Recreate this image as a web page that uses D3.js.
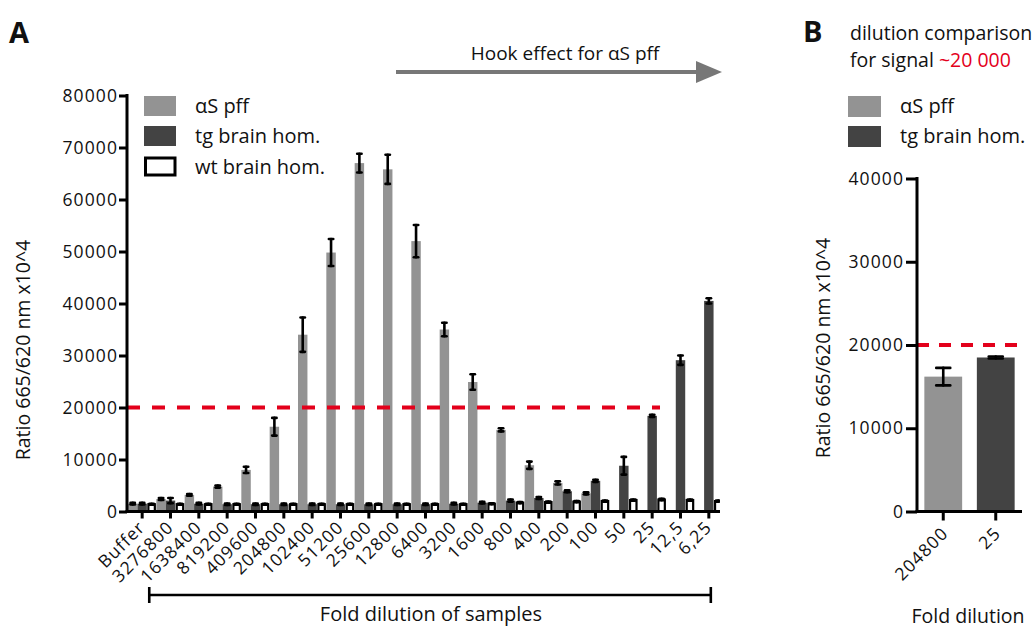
<!DOCTYPE html>
<html><head><meta charset="utf-8">
<script src="https://cdn.jsdelivr.net/npm/d3@7"></script>
<style>
body{margin:0;background:#fff;}
svg text{font-family:"Open Sans",sans-serif;fill:#111;}
</style></head>
<body><svg id="c" width="1032" height="628"></svg>
<script>
// ---- data (panel A) ----
const categories = ["Buffer","3276800","1638400","819200","409600","204800","102400","51200","25600","12800","6400","3200","1600","800","400","200","100","50","25","12,5","6,25"];
const seriesNames = ["αS pff","tg brain hom.","wt brain hom."];
const pffValues = [1500,2400,3200,4800,8000,16300,34000,49800,67000,65800,52000,35000,24900,15700,8900,5500,3500,null,null,null,null];
const pffErrors = [150,200,150,200,600,1700,3300,2600,1800,2800,3100,1300,1500,300,700,300,200,null,null,null,null];
const tgValues  = [1500,2100,1500,1400,1400,1400,1400,1400,1400,1400,1400,1500,1700,2100,2600,3900,5900,8800,18400,29100,40500];
const tgErrors  = [150,500,150,150,150,150,150,150,150,150,150,150,150,200,200,200,200,1700,200,900,500];
const wtValues  = [1400,1400,1400,1400,1400,1400,1400,1400,1400,1400,1400,1400,1500,1700,1800,1900,2000,2200,2300,2200,2000];
const wtErrors  = [100,100,100,100,100,100,100,100,100,100,100,100,100,100,100,100,100,100,150,100,100];
const yTicksA = [0,10000,20000,30000,40000,50000,60000,70000,80000];
const thresholdValue = 20000;
// ---- data (panel B) ----
const categoriesB = ["204800","25"];
const valuesB = [16200,18500];
const errorsB = [1050,120];
const yTicksB = [0,10000,20000,30000,40000];

const colPff = "#939393", colTg = "#434343", colRed = "#e3001b";
const tickFont = 17.5, tickLS = "1.1px";
const svg = d3.select("#c");

// ================= Panel A =================
const x = d3.scaleBand().domain(categories).range([128, 723]).padding(0);
const xs = d3.scaleBand().domain(seriesNames).range([0, x.bandwidth()]).padding(0);
const y = d3.scaleLinear().domain([0, 80000]).range([511.5, 95.5]);

svg.append("defs").append("clipPath").attr("id","clipA")
  .append("rect").attr("x",120).attr("y",0).attr("width",599.8).attr("height",628);

const gA = svg.append("g").attr("clip-path","url(#clipA)");
const rows = categories.map((c,i)=>({c,i}));

gA.selectAll("rect.pff").data(rows.filter(d=>pffValues[d.i]!=null)).join("rect")
  .attr("x", d=>x(d.c)+xs(seriesNames[0])).attr("width", xs.bandwidth())
  .attr("y", d=>y(pffValues[d.i])).attr("height", d=>y(0)-y(pffValues[d.i]))
  .attr("fill", colPff);
gA.selectAll("rect.tg").data(rows).join("rect")
  .attr("x", d=>x(d.c)+xs(seriesNames[1])).attr("width", xs.bandwidth())
  .attr("y", d=>y(tgValues[d.i])).attr("height", d=>y(0)-y(tgValues[d.i]))
  .attr("fill", colTg);
gA.selectAll("rect.wt").data(rows).join("rect")
  .attr("x", d=>x(d.c)+xs(seriesNames[2])+1.5).attr("width", xs.bandwidth()-3)
  .attr("y", d=>y(wtValues[d.i])).attr("height", d=>y(0)-y(wtValues[d.i]))
  .attr("fill", "#fff").attr("stroke","#000").attr("stroke-width",2.2);

function errBars(g, ys, data, xpos, val, err, capw){
  const e = g.append("g").attr("stroke","#000").attr("stroke-width",2.6).attr("stroke-linecap","round");
  data.forEach(d=>{
    const v = val(d), s = err(d); if(v==null) return;
    const cx = xpos(d);
    e.append("line").attr("x1",cx).attr("x2",cx).attr("y1",ys(v+s)).attr("y2",ys(v-s));
    e.append("line").attr("x1",cx-capw).attr("x2",cx+capw).attr("y1",ys(v+s)).attr("y2",ys(v+s));
    e.append("line").attr("x1",cx-capw).attr("x2",cx+capw).attr("y1",ys(v-s)).attr("y2",ys(v-s));
  });
}
errBars(gA, y, rows, d=>x(d.c)+xs(seriesNames[0])+xs.bandwidth()/2, d=>pffValues[d.i], d=>pffErrors[d.i], 2.2);
errBars(gA, y, rows, d=>x(d.c)+xs(seriesNames[1])+xs.bandwidth()/2, d=>tgValues[d.i], d=>tgErrors[d.i], 2.2);
errBars(gA, y, rows, d=>x(d.c)+xs(seriesNames[2])+xs.bandwidth()/2, d=>wtValues[d.i], d=>wtErrors[d.i], 2.2);

svg.append("line").attr("x1",127).attr("x2",660).attr("y1",y(thresholdValue)).attr("y2",y(thresholdValue))
  .attr("stroke",colRed).attr("stroke-width",4).attr("stroke-dasharray","13,12");

const yAxA = svg.append("g").attr("transform","translate(127,0)")
  .call(d3.axisLeft(y).tickValues(yTicksA).tickFormat(d3.format("d")).tickSize(8).tickSizeOuter(0).tickPadding(1));
yAxA.select(".domain").attr("stroke-width",3).attr("d","M0,"+(y(80000)-1.5)+"V"+(y(0)+1.5));
yAxA.selectAll(".tick line").attr("stroke-width",3);
yAxA.selectAll(".tick text").attr("font-size",tickFont).attr("font-family","Open Sans").attr("fill","#111").attr("letter-spacing",tickLS);

const xAxA = svg.append("g").attr("transform","translate(0,"+y(0)+")")
  .call(d3.axisBottom(x).tickSize(7).tickSizeOuter(0));
xAxA.select(".domain").attr("stroke-width",3).attr("d","M125.5,0H720");
xAxA.selectAll(".tick line").attr("stroke-width",3);
xAxA.selectAll(".tick text").attr("font-size",tickFont).attr("font-family","Open Sans").attr("fill","#111").attr("letter-spacing",tickLS)
  .attr("text-anchor","end").attr("x",0).attr("y",0).attr("dy",0)
  .attr("transform","translate(4,17) rotate(-45)");

svg.append("text").attr("transform","translate(30,350) rotate(-90)").attr("text-anchor","middle")
  .attr("font-size",19.5).text("Ratio 665/620 nm x10^4");

// bracket + x title
const bx0 = x(categories[0]) + x.bandwidth()*0.75, bx1 = x(categories[categories.length-1]) + x.bandwidth()*0.57;
const br = svg.append("g").attr("stroke","#000").attr("stroke-width",2.6);
br.append("line").attr("x1",bx0).attr("x2",bx1).attr("y1",595).attr("y2",595);
br.append("line").attr("x1",bx0).attr("x2",bx0).attr("y1",587).attr("y2",603);
br.append("line").attr("x1",bx1).attr("x2",bx1).attr("y1",587).attr("y2",603);
svg.append("text").attr("x",431).attr("y",621).attr("text-anchor","middle").attr("font-size",20).text("Fold dilution of samples");

// legend A
const legA = svg.append("g");
const legY = [96,126,157];
legA.append("rect").attr("x",144).attr("y",legY[0]).attr("width",32).attr("height",20).attr("fill",colPff);
legA.append("rect").attr("x",144).attr("y",legY[1]).attr("width",32).attr("height",20).attr("fill",colTg);
legA.append("rect").attr("x",145.5).attr("y",legY[2]+1).attr("width",29.5).attr("height",17).attr("fill","#fff").attr("stroke","#000").attr("stroke-width",3);
seriesNames.forEach((s,i)=>legA.append("text").attr("x",195).attr("y",legY[i]+17).attr("font-size",20).text(s));

svg.append("text").attr("x",9).attr("y",43).attr("font-size",29).attr("font-weight","bold").text("A");
svg.append("text").attr("x",803).attr("y",42).attr("font-size",29).attr("font-weight","bold").text("B");

// hook arrow
svg.append("text").attr("x",565).attr("y",60).attr("text-anchor","middle").attr("font-size",19).text("Hook effect for αS pff");
svg.append("line").attr("x1",396).attr("x2",700).attr("y1",72).attr("y2",72).attr("stroke","#777").attr("stroke-width",4);
svg.append("path").attr("d","M696,61L722,72L696,83Z").attr("fill","#777");

// ================= Panel B =================
const xB = d3.scaleBand().domain(categoriesB).range([917, 1022]).paddingInner(0.28).paddingOuter(0.14);
const yB = d3.scaleLinear().domain([0,40000]).range([511.5, 178.5]);
const gB = svg.append("g");
gB.selectAll("rect").data(categoriesB).join("rect")
  .attr("x", d=>xB(d)).attr("width", xB.bandwidth())
  .attr("y", (d,i)=>yB(valuesB[i])).attr("height",(d,i)=>yB(0)-yB(valuesB[i]))
  .attr("fill",(d,i)=>i===0?colPff:colTg);
errBars(gB, yB, categoriesB.map((c,i)=>({c,i})), d=>xB(d.c)+xB.bandwidth()/2, d=>valuesB[d.i], d=>errorsB[d.i], 7);

svg.append("line").attr("x1",917).attr("x2",1020).attr("y1",yB(thresholdValue)).attr("y2",yB(thresholdValue))
  .attr("stroke",colRed).attr("stroke-width",4).attr("stroke-dasharray","12,10");

const yAxB = svg.append("g").attr("transform","translate(917,0)")
  .call(d3.axisLeft(yB).tickValues(yTicksB).tickFormat(d3.format("d")).tickSize(11).tickSizeOuter(0).tickPadding(2));
yAxB.select(".domain").attr("stroke-width",3).attr("d","M0,"+(yB(40000)-1.5)+"V"+(yB(0)+1.5));
yAxB.selectAll(".tick line").attr("stroke-width",3);
yAxB.selectAll(".tick text").attr("font-size",tickFont).attr("font-family","Open Sans").attr("fill","#111").attr("letter-spacing",tickLS);

const xAxB = svg.append("g").attr("transform","translate(0,"+yB(0)+")")
  .call(d3.axisBottom(xB).tickSize(9).tickSizeOuter(0));
xAxB.select(".domain").attr("stroke-width",3).attr("d","M915.5,0H1022");
xAxB.selectAll(".tick line").attr("stroke-width",3);
xAxB.selectAll(".tick text").attr("font-size",tickFont).attr("font-family","Open Sans").attr("fill","#111").attr("letter-spacing",tickLS)
  .attr("text-anchor","end").attr("x",0).attr("y",0).attr("dy",0)
  .attr("transform","translate(6,23) rotate(-45)");

svg.append("text").attr("transform","translate(830,348) rotate(-90)").attr("text-anchor","middle")
  .attr("font-size",19.5).text("Ratio 665/620 nm x10^4");
svg.append("text").attr("x",968).attr("y",623).attr("text-anchor","middle").attr("font-size",19.5).text("Fold dilution");

svg.append("text").attr("x",850).attr("y",40).attr("font-size",19.5).text("dilution comparison");
const t2 = svg.append("text").attr("x",850).attr("y",67).attr("font-size",19.5);
t2.append("tspan").text("for signal ");
t2.append("tspan").attr("fill",colRed).text("~20 000");

const legB = svg.append("g");
legB.append("rect").attr("x",848).attr("y",96).attr("width",33).attr("height",21).attr("fill",colPff);
legB.append("rect").attr("x",848).attr("y",126).attr("width",33).attr("height",21).attr("fill",colTg);
legB.append("text").attr("x",900).attr("y",113).attr("font-size",20).text(seriesNames[0]);
legB.append("text").attr("x",900).attr("y",143).attr("font-size",20).text(seriesNames[1]);
</script></body></html>
